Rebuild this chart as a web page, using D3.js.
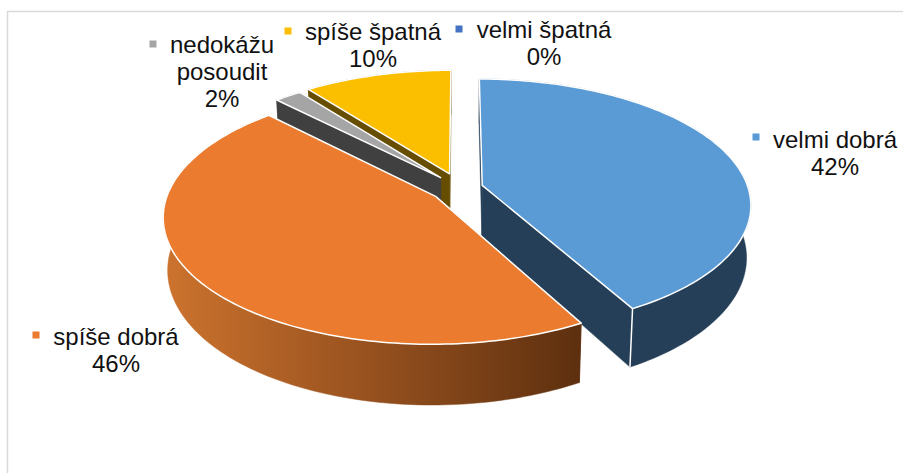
<!DOCTYPE html>
<html>
<head>
<meta charset="utf-8">
<script src="https://cdn.jsdelivr.net/npm/d3@7"></script>
<style>
html,body{margin:0;padding:0;background:#fff;}
svg{display:block;}
text{font-family:"Liberation Sans",Arial,sans-serif;fill:#111;}
</style>
</head>
<body>
<svg id="c" width="903" height="473"></svg>
<script>
const categories = ["velmi dobrá", "spíše dobrá", "nedokážu posoudit", "spíše špatná", "velmi špatná"];
const values = [42, 45.7, 1.9, 10.4, 0];
const labelLines = [["velmi dobrá","42%"],["spíše dobrá","46%"],["nedokážu","posoudit","2%"],["spíše špatná","10%"],["velmi špatná","0%"]];
const colors = ["#5b9bd5","#ea7b2f","#a5a5a5","#fbbf00","#4472c4"];
const darks = ["#243f57","#5e300f","#404040","#664d00","#29446f"];
const explode = [23, 30, 30, 33, 40];
const drawOrder = [0, 3, 2, 1];
const labelPos = [
  {x:835,y:148,mx:756,my:137},
  {x:116,y:345,mx:36,my:335},
  {x:222,y:53,mx:153,my:44},
  {x:373,y:40,mx:288,my:31},
  {x:544,y:38,mx:459,my:29}
];

const W=903,H=473;
const svg=d3.select("#c");
const cx=460, cy=188, R=266, B=123, k=0.15, h=51, taper=0.985;

svg.append("rect").attr("width",W).attr("height",H).attr("fill","#fff");
// chart frame
svg.append("path").attr("d",`M7.5,${H} V11.5 H${W}`).attr("fill","none").attr("stroke","#d9d9d9").attr("stroke-width",1.5);

const defs=svg.append("defs");
const g=defs.append("linearGradient").attr("id","wallOrange").attr("gradientUnits","userSpaceOnUse")
  .attr("x1",165).attr("x2",578).attr("y1",0).attr("y2",0);
g.append("stop").attr("offset",0).attr("stop-color","#cc732e");
g.append("stop").attr("offset",0.45).attr("stop-color","#9c5420");
g.append("stop").attr("offset",1).attr("stop-color","#5e300f");

const pie=d3.pie().sort(null).startAngle(0).endAngle(2*Math.PI);
const arcs=pie(values);

function project(X,Z,bottom){
  const s=1/(1+k*Z/R);
  const t=bottom?taper:1;
  return [cx+X*s*t, cy-(B/R)*Z*s+(bottom?h*s:0)];
}
const line=d3.line();
function slicePts(a,i){
  const e=explode[i], mid=(a.startAngle+a.endAngle)/2;
  const ox=e*Math.sin(mid), oz=e*Math.cos(mid);
  const n=Math.max(2,Math.ceil((a.endAngle-a.startAngle)/0.02));
  const angs=d3.range(n+1).map(j=>a.startAngle+(a.endAngle-a.startAngle)*j/n);
  const rim=b=>angs.map(t=>project(ox+R*Math.sin(t),oz+R*Math.cos(t),b));
  return {top:rim(false),bot:rim(true),apexT:project(ox,oz,false),apexB:project(ox,oz,true)};
}
function poly(sel,pts,fill,stroke){
  const p=sel.append("path").attr("d",line(pts)+"Z").attr("fill",fill);
  if(stroke){p.attr("stroke","#fff").attr("stroke-width",1.5).attr("stroke-linejoin","round");}
  else{p.attr("stroke",fill).attr("stroke-width",0.5);}
  return p;
}
const pieG=svg.append("g");
drawOrder.forEach(i=>{
  const a=arcs[i], p=slicePts(a,i), G=pieG.append("g");
  const wallFill=i===1?"url(#wallOrange)":darks[i];
  const last=p.top.length-1;
  // cut faces
  poly(G,[p.apexT,p.top[0],p.bot[0],p.apexB],darks[i]);
  poly(G,[p.apexT,p.top[last],p.bot[last],p.apexB],darks[i]);
  // outer wall
  poly(G,p.top.concat(p.bot.slice().reverse()),wallFill);
  // white seam between wall and cut face of the blue slice
  if(i===0) G.append("path").attr("d",line([p.top[last],p.bot[last]])).attr("stroke","#fff").attr("stroke-width",1.5);
  // top
  poly(G,[p.apexT].concat(p.top),colors[i],true);
});

// labels
const lab=svg.append("g").selectAll("g").data(categories).join("g");
lab.append("rect")
  .attr("x",(d,i)=>labelPos[i].mx-3.5).attr("y",(d,i)=>labelPos[i].my-3.5)
  .attr("width",7).attr("height",7).attr("fill",(d,i)=>colors[i]);
lab.each(function(d,i){
  const t=d3.select(this).append("text").attr("text-anchor","middle").attr("font-size",24);
  labelLines[i].forEach((l,j)=>t.append("tspan").attr("x",labelPos[i].x).attr("y",labelPos[i].y+j*27).text(l));
});
</script>
</body>
</html>
